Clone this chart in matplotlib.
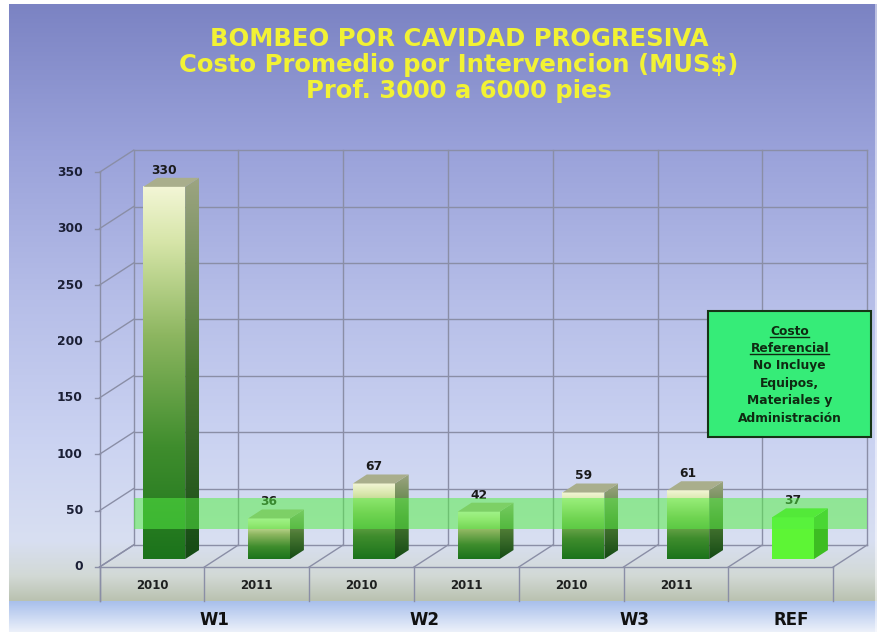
import numpy as np
import matplotlib
matplotlib.use("Agg")
import matplotlib.pyplot as plt
from matplotlib.colors import LinearSegmentedColormap, to_rgb
from matplotlib.patches import Polygon, Rectangle
from matplotlib.lines import Line2D

# --------------------------------
# DATA
# --------------------------------

years = ["2010", "2011", "2010", "2011", "2010", "2011", ""]
groups = ["W1", "W2", "W3", "REF"]
group_members = [[0, 1], [2, 3], [4, 5], [6]]
costs = [330, 36, 67, 42, 59, 61, 37]
y_ticks = [0, 50, 100, 150, 200, 250, 300, 350]

title_lines = [
    "BOMBEO POR CAVIDAD PROGRESIVA",
    "Costo Promedio por Intervencion (MUS$)",
    "Prof. 3000 a 6000 pies",
]
note_lines = ["Costo", "Referencial", "No Incluye", "Equipos,",
              "Materiales y", "Administración"]
note_underlined = [True, True, False, False, False, False]

# --------------------------------
# LAYOUT / STYLE
# --------------------------------

W, H = 883, 634
X_LIM = (-152 / 104.8, (W - 152) / 104.8)
Y_LIM = ((567 - H) / 1.128, 567 / 1.128)

DX, DY = 0.324, 19.5        # offset for full depth of the box
D0, D1 = 0.36, 0.77         # front / back depth of the bars
BW = 0.40                   # bar width
Y_MAX = 350
BAND = (27, 54)             # green band, measured at bar depth

grid_color = "#8a8ea6"
label_dark = "#1b1f35"

front_cmap = LinearSegmentedColormap.from_list(
    "front", [(0, "#1b731b"), (0.3, "#3f8d2d"), (0.6, "#8db660"),
              (0.85, "#d6e5a8"), (1, "#f3f6d6")])
side_cmap = LinearSegmentedColormap.from_list(
    "side", [(0, "#144a14"), (0.5, "#4c7a34"), (1, "#9da582")])

# --------------------------------
# FIGURE
# --------------------------------

fig = plt.figure(figsize=(W / 100, H / 100), dpi=100)
ax = fig.add_axes([0, 0, 1, 1])
ax.set_axis_off()

# background panel gradient
stops_y = [4, 150, 300, 450, 540, 575, 600, 601, 632]
stops_c = ["#7b83c3", "#9aa2da", "#b6bee8", "#ccd4f2", "#d8dff2",
           "#d2d9d6", "#bac2b0", "#a9c0ec", "#eef2fa"]
rows = np.arange(H)
rgb = np.array([to_rgb(c) for c in stops_c])
col = np.stack([np.interp(rows, stops_y, rgb[:, k]) for k in range(3)], axis=1)
bg = np.repeat(col[:, None, :], W, axis=1)
bg[:4, :, :] = 1
bg[632:, :, :] = 1
bg[:, :9, :] = 1
bg[:, 877:, :] = 1
bg[:, 875:877, :] = bg[:, 875:877, :] * 0.5 + 0.5
ax.imshow(bg, extent=(X_LIM[0], X_LIM[1], Y_LIM[0], Y_LIM[1]),
          aspect="auto", zorder=0, interpolation="bilinear")

n = len(costs)
left, right = -0.5, n - 0.5

# --------------------------------
# WALLS AND FLOOR
# --------------------------------

lk = dict(color=grid_color, lw=1, zorder=1)
for v in y_ticks:
    ax.plot([left + DX, right + DX], [v + DY, v + DY], **lk)
    ax.plot([left, left + DX], [v, v + DY], **lk)
    ax.plot([left - 0.045, left], [v, v], **lk)
    ax.text(left - 0.16, v, str(v), ha="right", va="center",
            fontsize=8.8, fontweight="bold", color=label_dark, zorder=2)
for k in range(n + 1):
    xb = k - 0.5
    ax.plot([xb + DX, xb + DX], [DY, Y_MAX + DY], **lk)
    ax.plot([xb, xb + DX], [0, DY], **lk)
    ax.plot([xb, xb], [0, -30], **lk)
ax.plot([left, right], [0, 0], **lk)
ax.plot([left, left], [-30, Y_MAX], **lk)

# category labels
for i, yr in enumerate(years):
    ax.text(i, -16, yr, ha="center", va="center", fontsize=8.5,
            fontweight="bold", color="#1e2020", zorder=2)
for g, members in zip(groups, group_members):
    ax.text(np.mean(members) + 0.1, -47, g, ha="center", va="center",
            fontsize=12, fontweight="bold", color="#111111", zorder=2)

# --------------------------------
# BARS
# --------------------------------

grad = np.linspace(0, 1, 256).reshape(-1, 1)
dxb, dyb = DX * (D1 - D0), DY * (D1 - D0)
base = DY * D0

for i, v in enumerate(costs):
    x0 = i - BW / 2 + DX * D0
    x1 = x0 + BW
    top = base + v
    side = Polygon([(x1, base), (x1 + dxb, base + dyb),
                    (x1 + dxb, top + dyb), (x1, top)], closed=True,
                   facecolor="none", edgecolor="none")
    cap = Polygon([(x0, top), (x1, top), (x1 + dxb, top + dyb),
                   (x0 + dxb, top + dyb)], closed=True, lw=0, zorder=4)
    ax.add_patch(side)
    if years[i] == "":
        ax.add_patch(Rectangle((x0, base), BW, v, facecolor="#5df535",
                               lw=0, zorder=4))
        side.set_facecolor("#3dbd22")
        side.set_zorder(4)
        cap.set_facecolor("#52e22e")
    else:
        ax.imshow(grad, cmap=front_cmap, origin="lower", aspect="auto",
                  extent=(x0, x1, base, top), zorder=4)
        im = ax.imshow(grad, cmap=side_cmap, origin="lower", aspect="auto",
                       extent=(x1, x1 + dxb, base, top + dyb), zorder=4)
        im.set_clip_path(side)
        cap.set_facecolor("#a9ae8c")
    ax.add_patch(cap)
    ax.text(x0 + BW / 2, top + dyb + 1, str(v), ha="center", va="bottom",
            fontsize=8.8, fontweight="bold", color="#1a1a1a", zorder=5)

# translucent green band across the chart
ax.add_patch(Rectangle((left + DX, BAND[0] + base), right - left,
                       BAND[1] - BAND[0], facecolor="#55f044", alpha=0.52,
                       lw=0, zorder=6))

# --------------------------------
# NOTE BOX
# --------------------------------

ax.add_patch(Rectangle((5.31, 115), 1.55, 112, facecolor="#36ec78",
                       edgecolor="#163416", lw=1.5, zorder=7))
note_texts = []
for j, line in enumerate(note_lines):
    t = ax.text(6.085, 209 - 15.4 * j, line, ha="center", va="center",
                fontsize=8.8, fontweight="bold", color="#0f2a12", zorder=8)
    note_texts.append(t)

# --------------------------------
# TITLE
# --------------------------------

for j, line in enumerate(title_lines):
    fig.text(0.52, 1 - (46.5 + 25.7 * j) / H, line, ha="center",
             va="baseline", fontsize=17.5, fontweight="bold", color="#f2f234")

ax.set_xlim(*X_LIM)
ax.set_ylim(*Y_LIM)

# underline the first lines of the note
fig.canvas.draw()
renderer = fig.canvas.get_renderer()
inv = ax.transData.inverted()
for t, u in zip(note_texts, note_underlined):
    if not u:
        continue
    bb = t.get_window_extent(renderer)
    (ux0, uy), (ux1, _) = inv.transform([(bb.x0, bb.y0 + 1), (bb.x1, bb.y0 + 1)])
    ax.add_line(Line2D([ux0, ux1], [uy, uy], color="#0f2a12", lw=1, zorder=8))

fig.savefig("out.png", dpi=100)
